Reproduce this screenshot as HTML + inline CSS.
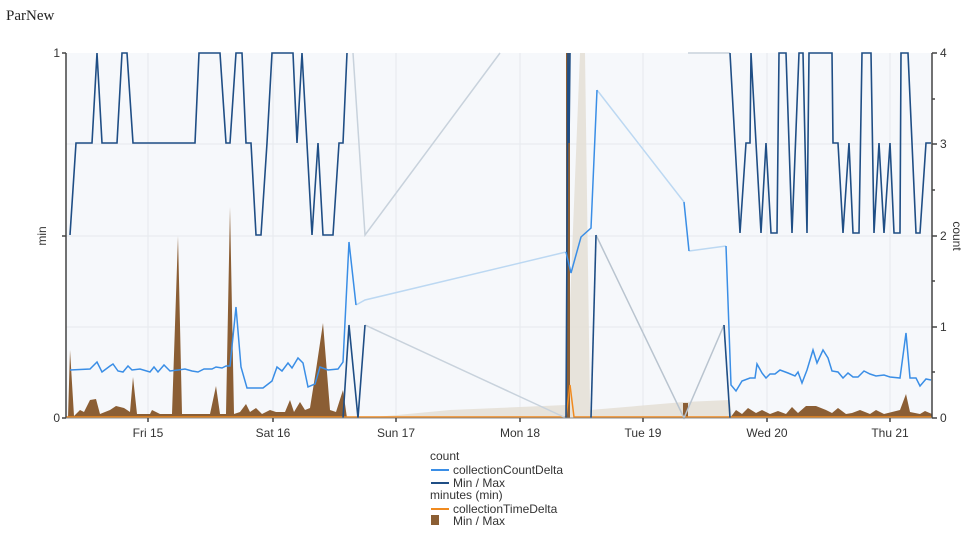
<!DOCTYPE html>
<html><head><meta charset="utf-8"><style>
body{margin:0;background:#fff;width:969px;height:536px;overflow:hidden;font-family:"Liberation Sans",sans-serif}
</style></head><body>
<svg width="969" height="536" viewBox="0 0 969 536" xmlns="http://www.w3.org/2000/svg">
<text x="6" y="20" font-family="Liberation Serif" font-size="15" fill="#222">ParNew</text>
<rect x="66" y="53" width="866" height="365" fill="#f6f8fb"/>
<g stroke="#e6e9ee" stroke-width="1">
<line x1="66" y1="144" x2="932" y2="144"/><line x1="66" y1="236" x2="932" y2="236"/><line x1="66" y1="327" x2="932" y2="327"/>
<line x1="148" y1="53" x2="148" y2="418"/><line x1="273" y1="53" x2="273" y2="418"/><line x1="396" y1="53" x2="396" y2="418"/><line x1="520" y1="53" x2="520" y2="418"/><line x1="643" y1="53" x2="643" y2="418"/><line x1="767" y1="53" x2="767" y2="418"/><line x1="890" y1="53" x2="890" y2="418"/>
</g>
<!-- beige area -->
<polygon points="365,418 450,410 566,405 580,53 585,53 590,410 684,402 730,400 732,418" fill="#e3ddd3" opacity="0.8"/>
<!-- brown area -->
<polygon fill="#8b5e34" points="68,418 70,350 74,416 80,410 84,412 90,400 96,399 100,414 110,410 116,406 124,408 130,412 133,377 137,414 150,414 152,410 160,414 172,414 178,236 182,414 210,414 216,386 220,414 226,414 230,207 234,414 240,412 246,404 250,412 256,408 262,414 270,410 276,412 285,412 290,400 294,412 300,402 305,410 310,408 316,370 323,323 330,410 336,412 343,390 347,418 566,418 566,53 570,53 570,418 683,418 683,403 688,403 688,418 730,418 736,410 742,414 748,408 756,413 762,410 770,414 778,411 786,414 792,407 798,413 806,406 816,406 826,410 832,413 838,408 846,414 852,413 860,410 870,414 876,410 884,414 892,412 900,410 906,394 910,412 920,414 925,411 932,414 932,418"/>
<!-- orange -->
<polyline fill="none" stroke="#f08a1f" stroke-width="1.5" points="66,417 566,417 570,385 574,417 932,417"/>
<!-- faded lines -->
<g fill="none" stroke-width="1.5">
<polyline stroke="#c8d2dc" points="353,53 365,235 500,53"/>
<polyline stroke="#c8d2dc" points="365,325 566,418"/>
<polyline stroke="#b9c4cf" points="596,235 684,418 724,325"/>
<polyline stroke="#c8d2dc" points="688,53 730,53"/>
<polyline stroke="#bcd8f2" points="356,305 365,300 566,252"/>
<polyline stroke="#bcd8f2" points="597,90 684,202"/>
<polyline stroke="#bcd8f2" points="689,251 726,246"/>
</g>
<!-- dark count min/max -->
<g fill="none" stroke="#1f4e85" stroke-width="1.6">
<polyline points="70,235 76,143 92,143 97,53 102,143 117,143 122,53 127,53 133,143 195,143 199,53 220,53 226,143 230,143 236,53 242,53 246,143 251,143 256,235 261,235 267,143 272,53 293,53 297,143 302,53 312,235 318,143 323,235 333,235 339,143 343,143 347,53"/>
<polyline points="343,418 349,325 358,418 365,325"/>
<polyline points="566,418 568,53 569,143 570,53"/>
<polyline points="591,418 596,235"/>
<polyline points="724,325 730,418"/>
<polyline points="730,53 740,233 746,143 750,143 751,53 761,233 766,143 771,233 777,233 779,53 786,53 792,233 799,53 803,53 807,233 809,53 832,53 833,143 838,143 843,233 849,143 853,233 859,233 862,53 871,53 874,233 879,143 884,233 890,143 894,233 900,233 901,53 908,53 916,233 920,233 926,143 931,143"/>
</g>
<!-- blue count delta -->
<g fill="none" stroke="#3a8ee6" stroke-width="1.5">
<polyline points="70,370 90,369 97,362 102,372 110,366 113,364 118,371 123,372 128,366 132,370 140,369 150,372 154,367 158,372 164,365 170,371 178,370 185,369 192,371 198,372 204,369 212,369 216,367 222,368 226,366 230,366 236,307 241,367 247,388 263,388 272,381 277,367 282,371 288,363 292,368 298,358 303,363 308,387 315,384 320,367 328,370 338,369 343,362 349,242 356,305"/>
<polyline points="566,252 571,273 581,237 591,228 597,90"/>
<polyline points="684,202 689,251"/>
<polyline points="726,246 731,385 736,391 742,381 750,378 755,378 757,364 762,373 766,378 770,374 775,374 780,370 788,373 795,376 798,372 802,383 807,370 813,350 817,363 823,350 828,358 832,371 838,372 843,378 848,373 853,377 858,377 864,371 870,374 876,376 884,375 890,377 900,378 906,333 910,378 916,378 920,386 926,379 931,380"/>
</g>
<!-- axes -->
<g stroke="#444" stroke-width="1.5" fill="none">
<line x1="66" y1="53" x2="66" y2="418"/><line x1="932" y1="53" x2="932" y2="418"/>
<line x1="66" y1="418" x2="932" y2="418" stroke="#888" stroke-width="1"/>
<line x1="62" y1="53" x2="66" y2="53"/><line x1="62" y1="236" x2="66" y2="236"/><line x1="62" y1="418" x2="66" y2="418"/>
<line x1="932" y1="53" x2="937" y2="53"/><line x1="932" y1="99" x2="935" y2="99"/><line x1="932" y1="144" x2="937" y2="144"/><line x1="932" y1="190" x2="935" y2="190"/><line x1="932" y1="236" x2="937" y2="236"/><line x1="932" y1="281" x2="935" y2="281"/><line x1="932" y1="327" x2="937" y2="327"/><line x1="932" y1="372" x2="935" y2="372"/><line x1="932" y1="418" x2="937" y2="418"/>
<line x1="148" y1="418" x2="148" y2="422"/><line x1="273" y1="418" x2="273" y2="422"/><line x1="396" y1="418" x2="396" y2="422"/><line x1="520" y1="418" x2="520" y2="422"/><line x1="643" y1="418" x2="643" y2="422"/><line x1="767" y1="418" x2="767" y2="422"/><line x1="890" y1="418" x2="890" y2="422"/>
</g>
<g font-size="12" fill="#333">
<text x="60" y="57" text-anchor="end">1</text><text x="60" y="422" text-anchor="end">0</text>
<text x="940" y="57">4</text><text x="940" y="148">3</text><text x="940" y="240">2</text><text x="940" y="331">1</text><text x="940" y="422">0</text>
<g text-anchor="middle"><text x="148" y="437">Fri 15</text><text x="273" y="437">Sat 16</text><text x="396" y="437">Sun 17</text><text x="520" y="437">Mon 18</text><text x="643" y="437">Tue 19</text><text x="767" y="437">Wed 20</text><text x="890" y="437">Thu 21</text></g>
<text transform="translate(46,236) rotate(-90)" text-anchor="middle">min</text>
<text transform="translate(953,236) rotate(90)" text-anchor="middle">count</text>
<text x="430" y="460">count</text>
<line x1="431" y1="470" x2="449" y2="470" stroke="#3a8ee6" stroke-width="2"/><text x="453" y="474">collectionCountDelta</text>
<line x1="431" y1="483" x2="449" y2="483" stroke="#1f4e85" stroke-width="2"/><text x="453" y="487">Min / Max</text>
<text x="430" y="499">minutes (min)</text>
<line x1="431" y1="509" x2="449" y2="509" stroke="#f08a1f" stroke-width="2"/><text x="453" y="513">collectionTimeDelta</text>
<rect x="431" y="515" width="8" height="10" fill="#8b5e34"/><text x="453" y="525">Min / Max</text>
</g>
</svg>
</body></html>
